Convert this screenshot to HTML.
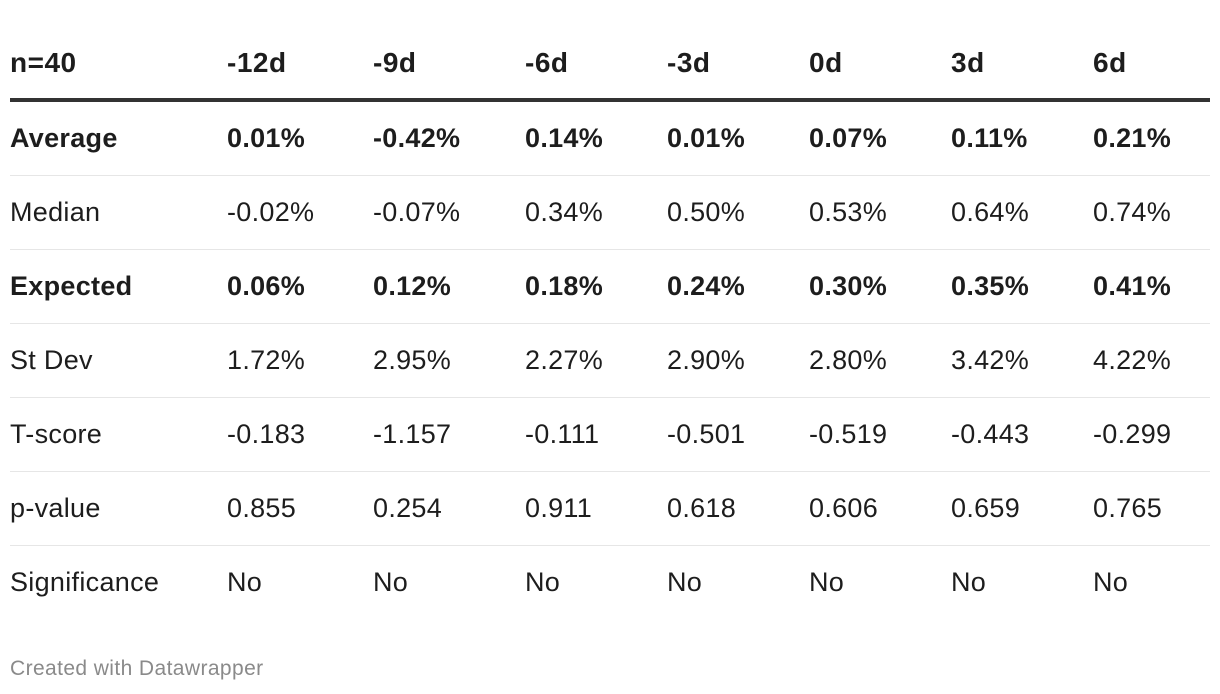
<!DOCTYPE html>
<html><head><meta charset="utf-8">
<style>
body{margin:0;width:1220px;height:694px;background:#fff;font-family:"Liberation Sans",sans-serif;color:#1d1d1d;position:relative;overflow:hidden}
.c{position:absolute;height:40px;line-height:40px;font-size:27px;letter-spacing:0.3px;white-space:nowrap}
.b{font-weight:bold}
.h{font-size:28px;font-weight:bold;letter-spacing:0.5px}
.sep{position:absolute;left:10px;width:1200px;height:1px;background:#e6e6e6}
.thick{position:absolute;left:10px;width:1200px;height:4px;background:#333;top:98px}
.foot{position:absolute;left:10px;top:657px;font-size:21px;letter-spacing:0.4px;color:#8a8a8a}
</style></head><body>
<div id="t"></div>
<div class="thick"></div>
<div class="foot">Created with Datawrapper</div>
<script>
const cols=["n=40","-12d","-9d","-6d","-3d","0d","3d","6d"];
const rows=[
["Average","0.01%","-0.42%","0.14%","0.01%","0.07%","0.11%","0.21%"],
["Median","-0.02%","-0.07%","0.34%","0.50%","0.53%","0.64%","0.74%"],
["Expected","0.06%","0.12%","0.18%","0.24%","0.30%","0.35%","0.41%"],
["St Dev","1.72%","2.95%","2.27%","2.90%","2.80%","3.42%","4.22%"],
["T-score","-0.183","-1.157","-0.111","-0.501","-0.519","-0.443","-0.299"],
["p-value","0.855","0.254","0.911","0.618","0.606","0.659","0.765"],
["Significance","No","No","No","No","No","No","No"]];
const boldRows=[0,2];
const xs=[10,227,373,525,667,809,951,1093];
const t=document.getElementById('t');
cols.forEach((c,i)=>{const d=document.createElement('div');d.className='c h';


d.style.left=xs[i]+'px';d.style.top='43px';d.textContent=c;t.appendChild(d);});
rows.forEach((r,ri)=>{const cy=138+74*ri;
r.forEach((v,i)=>{const d=document.createElement('div');d.className='c'+(boldRows.includes(ri)?' b':'');


d.style.left=xs[i]+'px';d.style.top=(cy-20)+'px';d.textContent=v;t.appendChild(d);});
if(ri<rows.length-1){const s=document.createElement('div');s.className='sep';


s.style.top=(cy+37)+'px';t.appendChild(s);}
});
</script>
</body></html>
